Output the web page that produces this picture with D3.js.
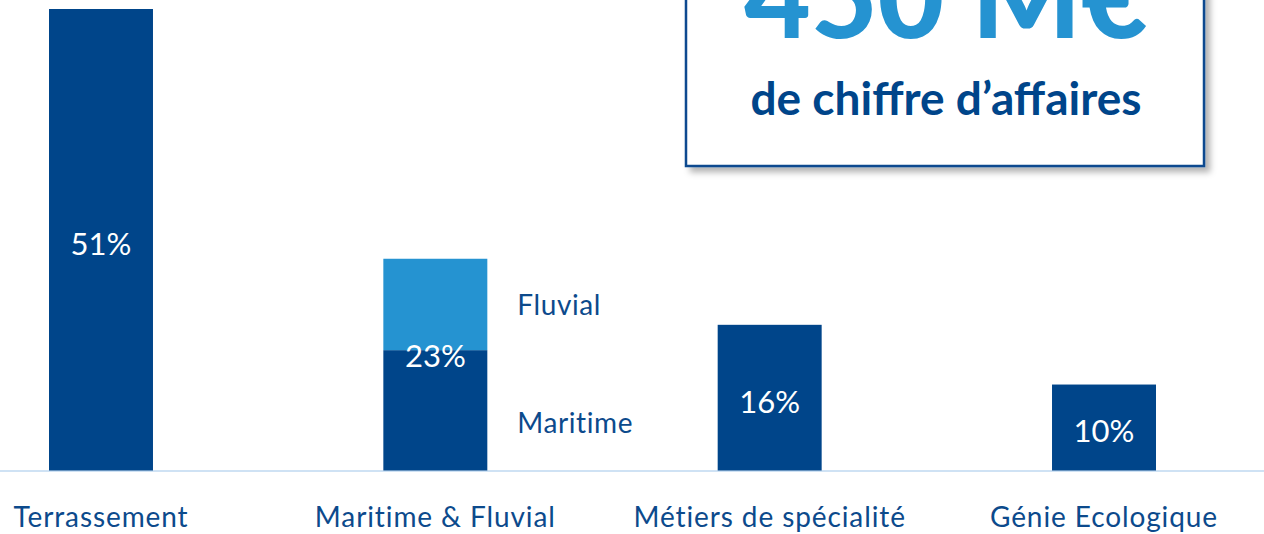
<!DOCTYPE html>
<html>
<head>
<meta charset="utf-8">
<script src="https://cdn.jsdelivr.net/npm/d3@7"></script>
<style>
  body { margin: 0; background: #fff; }
  svg { display: block; font-family: Lato, "Open Sans", sans-serif; }
</style>
</head>
<body>
<div id="chart"></div>
<script>
// shares of turnover by activity (bar heights)
const categories = ["Terrassement", "Maritime & Fluvial", "Métiers de spécialité", "Génie Ecologique"];
const shares = [51, 23.4, 16.1, 9.5];
const shareLabels = ["51%", "23%", "16%", "10%"];

// split of the maritime & fluvial bar
const splitCategory = "Maritime & Fluvial";
const splitParts = ["Maritime", "Fluvial"];
const splitValues = [13.3, 10.1];

const headline = "450 M€";
const subline = "de chiffre d’affaires";

const width = 1264, height = 534;
const dark = "#00458a", light = "#2593d1", textBlue = "#0c4a8c";

const svg = d3.select("#chart")
  .append("svg")
  .attr("width", width)
  .attr("height", height);

const x = d3.scaleBand()
  .domain(categories)
  .range([49, 1156])
  .paddingInner(0.689)
  .paddingOuter(0);

const y = d3.scaleLinear()
  .domain([0, 51])
  .range([470.5, 9]);

// segments for every bar
const segments = categories.flatMap((c, i) => {
  if (c === splitCategory) {
    let acc = 0;
    return splitValues.map((v, j) => {
      const s = { cat: c, part: splitParts[j], y0: acc, y1: acc + v, color: j === 0 ? dark : light };
      acc += v;
      return s;
    });
  }
  return [{ cat: c, y0: 0, y1: shares[i], color: dark }];
});

// baseline
svg.append("line")
  .attr("x1", 0).attr("x2", width)
  .attr("y1", y(0) + 0.5).attr("y2", y(0) + 0.5)
  .style("stroke", "#cfe2f4")
  .style("stroke-width", 2);

svg.append("g")
  .selectAll("rect")
  .data(segments)
  .enter()
  .append("rect")
  .attr("x", d => x(d.cat))
  .attr("width", x.bandwidth())
  .attr("y", d => y(d.y1))
  .attr("height", d => y(d.y0) - y(d.y1))
  .style("fill", d => d.color);

// percent labels
svg.append("g")
  .selectAll("text")
  .data(categories)
  .enter()
  .append("text")
  .attr("x", d => x(d) + x.bandwidth() / 2)
  .attr("y", (d, i) => d === splitCategory ? y(splitValues[0]) + 6 : (y(0) + y(shares[i])) / 2 + 4)
  .attr("dy", "0.35em")
  .attr("text-anchor", "middle")
  .style("fill", "#fff")
  .style("font-size", "31px")
  .text((d, i) => shareLabels[i]);

// part labels next to the split bar
svg.append("g")
  .selectAll("text")
  .data(segments.filter(s => s.part))
  .enter()
  .append("text")
  .attr("x", d => x(d.cat) + x.bandwidth() + 30)
  .attr("y", d => (y(d.y0) + y(d.y1)) / 2 + (d.part === "Maritime" ? 13 : 1))
  .attr("dy", "0.35em")
  .style("fill", textBlue)
  .style("font-size", "28px")
  .style("letter-spacing", "0.6px")
  .text(d => d.part);

// category labels
svg.append("g")
  .selectAll("text")
  .data(categories)
  .enter()
  .append("text")
  .attr("x", d => x(d) + x.bandwidth() / 2)
  .attr("y", 527)
  .attr("text-anchor", "middle")
  .style("fill", textBlue)
  .style("font-size", "28px")
  .style("letter-spacing", "0.9px")
  .text(d => d);

// headline box
const defs = svg.append("defs");
defs.append("filter")
  .attr("id", "shadow")
  .attr("x", "-10%").attr("y", "-10%")
  .attr("width", "130%").attr("height", "130%")
  .append("feDropShadow")
  .attr("dx", 5).attr("dy", 5)
  .attr("stdDeviation", 3)
  .attr("flood-color", "#000")
  .attr("flood-opacity", 0.3);

svg.append("rect")
  .attr("x", 686).attr("y", -60)
  .attr("width", 518).attr("height", 226)
  .style("fill", "#fff")
  .style("stroke", "#0b4a8f")
  .style("stroke-width", 2.5)
  .attr("filter", "url(#shadow)");

svg.append("text")
  .attr("x", 946).attr("y", 38)
  .attr("text-anchor", "middle")
  .style("fill", light)
  .style("font-size", "115px")
  .style("font-weight", 900)
  .text(headline);

svg.append("text")
  .attr("x", 946).attr("y", 115)
  .attr("text-anchor", "middle")
  .style("fill", dark)
  .style("font-size", "46px")
  .style("font-weight", 700)
  .text(subline);
</script>
</body>
</html>
